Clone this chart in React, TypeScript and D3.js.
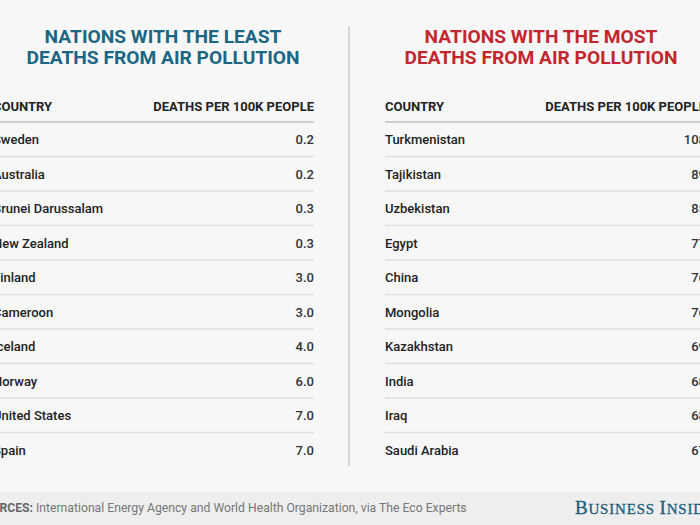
import React from "react";
import * as d3 from "d3";

const leastCountries = ["Sweden", "Australia", "Brunei Darussalam", "New Zealand", "Finland", "Cameroon", "Iceland", "Norway", "United States", "Spain"];
const leastValues = [0.2, 0.2, 0.3, 0.3, 3.0, 3.0, 4.0, 6.0, 7.0, 7.0];
const mostCountries = ["Turkmenistan", "Tajikistan", "Uzbekistan", "Egypt", "China", "Mongolia", "Kazakhstan", "India", "Iraq", "Saudi Arabia"];
const mostValues = [108, 89, 85, 77, 76, 76, 69, 68, 68, 67];
const leastTitle = ["NATIONS WITH THE LEAST", "DEATHS FROM AIR POLLUTION"];
const mostTitle = ["NATIONS WITH THE MOST", "DEATHS FROM AIR POLLUTION"];
const headers = ["COUNTRY", "DEATHS PER 100K PEOPLE"];
const sourceLabel = "SOURCES:";
const sourceText = "International Energy Agency and World Health Organization, via The Eco Experts";

const W = 700;
const H = 525;
const FONT = "Roboto, 'Noto Sans', sans-serif";

function Table({ x0, x1, titleCx, title, color, countries, values, fmt }: any) {
  const y = d3.scaleBand<string>().domain(countries).range([122, 122 + 34.5 * countries.length]);
  return (
    <g>
      {title.map((t: string, i: number) => (
        <text key={t} x={titleCx} y={43 + i * 20.5} textAnchor="middle" fill={color}
          fontFamily={FONT} fontWeight={700} fontSize={19.2}>{t}</text>
      ))}
      <text x={x0} y={111} fill="#222" fontFamily={FONT} fontWeight={700} fontSize={13}>{headers[0]}</text>
      <text x={x1} y={111} textAnchor="end" fill="#222" fontFamily={FONT} fontWeight={700} fontSize={13}>{headers[1]}</text>
      <line x1={x0} x2={x1} y1={122} y2={122} stroke="#cfcfcf" strokeWidth={2} />
      {countries.map((c: string, i: number) => {
        const top = y(c)!;
        return (
          <g key={c}>
            <text x={x0} y={top + 22} fill="#222" fontFamily={FONT} fontWeight={500} fontSize={13}>{c}</text>
            <text x={x1} y={top + 22} textAnchor="end" fill="#333" fontFamily={FONT} fontWeight={500} fontSize={13}>{fmt(values[i])}</text>
            {i < countries.length - 1 && (
              <line x1={x0} x2={x1} y1={top + y.bandwidth()} y2={top + y.bandwidth()} stroke="#dedede" strokeWidth={1.5} />
            )}
          </g>
        );
      })}
    </g>
  );
}

export default function App() {
  return (
    <svg width={W} height={H} style={{ position: "absolute", left: 0, top: 0, display: "block" }}>
      <rect x={0} y={0} width={W} height={H} fill="#f7f7f7" />
      <Table x0={-7} x1={314} titleCx={163} title={leastTitle} color="#1b6683"
        countries={leastCountries} values={leastValues} fmt={d3.format(".1f")} />
      <Table x0={385} x1={706} titleCx={541} title={mostTitle} color="#c3262e"
        countries={mostCountries} values={mostValues} fmt={d3.format("d")} />
      <line x1={349} x2={349} y1={26} y2={466} stroke="#cccccc" strokeWidth={1.5} />
      <rect x={0} y={492} width={W} height={33} fill="#eeeeee" />
      <text x={33} y={512} textAnchor="end" fill="#666" fontFamily={FONT} fontWeight={700} fontSize={12.2}>{sourceLabel}</text>
      <text x={36} y={512} fill="#777" fontFamily={FONT} fontWeight={400} fontSize={12.2}>{sourceText}</text>
      <text x={575} y={514} fill="#1d5b7c" fontFamily="'Liberation Serif', 'DejaVu Serif', serif" letterSpacing={0.8}
        stroke="#1d5b7c" strokeWidth={0.3}>
        <tspan fontSize={19}>B</tspan><tspan fontSize={15}>USINESS </tspan><tspan fontSize={19}>I</tspan><tspan fontSize={15}>NSIDER</tspan>
      </text>
    </svg>
  );
}
